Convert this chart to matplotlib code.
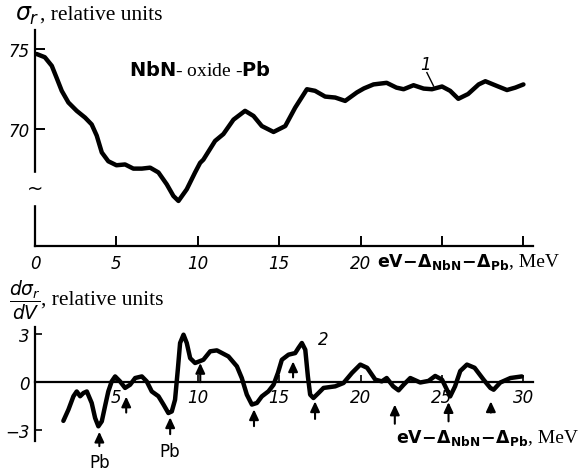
import matplotlib
matplotlib.use("Agg")
import matplotlib.pyplot as plt

plt.rcParams['mathtext.fontset'] = 'dejavusans'
plt.rcParams['mathtext.default'] = 'it'

# curve 1: sigma_r vs eV - D_NbN - D_Pb
x1 = [0.1, 0.6, 1.03, 1.33, 1.64, 2.05, 2.56, 3.07, 3.48, 3.79, 4.1, 4.5, 5.0, 5.53,
      6.04, 6.56, 7.07, 7.58, 8.09, 8.5, 8.81, 9.32, 9.83, 10.14, 10.34, 11.06, 11.57,
      12.19, 12.9, 13.42, 13.93, 14.65, 15.37, 15.98, 16.7, 17.2, 17.82, 18.44, 19.05,
      19.77, 20.2, 20.79, 21.6, 22.2, 22.64, 23.25, 23.87, 24.38, 25.0, 25.5, 26.0,
      26.6, 27.25, 27.66, 28.38, 28.99, 29.5, 30.0]
y1 = [74.7, 74.5, 73.96, 73.2, 72.4, 71.67, 71.15, 70.73, 70.3, 69.6, 68.55, 68.0, 67.75, 67.8,
      67.54, 67.54, 67.6, 67.3, 66.56, 65.83, 65.52, 66.25, 67.3, 67.9, 68.1, 69.27, 69.7,
      70.6, 71.15, 70.83, 70.2, 69.83, 70.2, 71.35, 72.5, 72.4, 72.04, 71.98, 71.77,
      72.3, 72.55, 72.8, 72.9, 72.6, 72.5, 72.75, 72.54, 72.5, 72.67, 72.4, 71.9,
      72.2, 72.8, 73.0, 72.7, 72.45, 72.6, 72.8]

# curve 2: d sigma_r / dV
x2 = [1.74, 2.05, 2.36, 2.56, 2.77, 2.97, 3.18, 3.48, 3.69, 3.89, 4.1, 4.3, 4.5, 4.71,
      4.92, 5.22, 5.53, 5.84, 6.15, 6.56, 6.86, 7.17, 7.58, 7.89, 8.19, 8.4, 8.6, 8.77,
      8.91, 9.12, 9.32, 9.53, 9.83, 10.34, 10.76, 11.17, 11.88, 12.4, 12.7, 13.01, 13.32,
      13.63, 13.93, 14.34, 14.65, 14.92, 15.16, 15.57, 15.98, 16.18, 16.39, 16.6, 16.76,
      16.9, 17.1, 17.41, 17.72, 18.44, 18.95, 19.47, 19.98, 20.4, 20.9, 21.3, 21.6,
      22.0, 22.33, 22.64, 23.05, 23.66, 24.17, 24.58, 25.0, 25.3, 25.5, 25.8, 26.12,
      26.53, 27.0, 27.55, 27.97, 28.17, 28.58, 29.2, 29.9]
y2 = [-2.42, -1.72, -0.88, -0.58, -0.88, -0.68, -0.58, -1.3, -2.24, -2.76, -2.45, -1.5, -0.58, 0.05,
      0.36, 0.05, -0.36, -0.16, 0.26, 0.36, 0.05, -0.58, -0.88, -1.4, -1.93, -1.83, -1.1, 0.78,
      2.45, 2.97, 2.45, 1.5, 1.2, 1.4, 1.93, 1.99, 1.61, 0.99, 0.26, -0.78, -1.4,
      -1.3, -0.89, -0.57, -0.16, 0.58, 1.4, 1.72, 1.82, 2.14, 2.45, 2.03, 0.36,
      -0.78, -0.99, -0.68, -0.36, -0.26, -0.05, 0.58, 1.1, 0.9, 0.16, 0.05, 0.26,
      -0.26, -0.51, -0.16, 0.26, -0.02, 0.08, 0.39, 0.16, -0.47, -0.89, -0.26, 0.7,
      1.1, 0.9, 0.16, -0.36, -0.47, -0.02, 0.26, 0.36]

# arrows in the lower panel: position, head, tail
arrow_x = [3.95, 5.6, 8.3, 10.15, 13.45, 15.85, 17.2, 22.1, 25.4, 28.0]
arrow_head = [-3.1, -0.9, -2.2, 1.2, -1.7, 1.3, -1.2, -1.4, -1.25, -1.2]
arrow_tail = [-4.0, -1.9, -3.25, 0.0, -2.75, 0.3, -2.3, -2.6, -2.45, -1.9]
pb_x = [4.0, 8.3]
pb_y = [-5.0, -4.3]

top_ticks = [0, 5, 10, 15, 20, 25, 30]
top_labels = ['0', '5', '10', '15', '20', '', '']
bot_ticks = [5, 10, 15, 20, 25, 30]
bot_labels = ['5', '10', '15', '20', '25', '30']

num_font = dict(family=['DejaVu Sans'], style='italic', size=12)
serif = ['Liberation Serif', 'DejaVu Serif']
xlab = r'$\mathbf{eV\!-\!\Delta_{NbN}\!-\!\Delta_{Pb}}$'


def label_with_units(x, y, math, size, units, usize):
    # math part, then the serif units text right after it
    t = fig.text(x, y, math, fontsize=size, va='center', ha='left')
    plt.annotate(units, xy=(1, 0.5), xycoords=t, fontsize=usize, family=serif,
                 va='center', ha='left', annotation_clip=False)


fig = plt.figure(figsize=(5.84, 4.77), dpi=100)

# ---- top panel
ax1 = fig.add_axes([0.06, 0.482, 0.853, 0.453])
ax1.plot(x1, y1, color='black', lw=3.2, solid_joinstyle='round', solid_capstyle='round')
ax1.set_xlim(0, 30.6)
ax1.set_ylim(62.7, 76.2)
for s in ['top', 'right']:
    ax1.spines[s].set_visible(False)
ax1.spines['left'].set_linewidth(1.6)
ax1.spines['bottom'].set_linewidth(1.6)
ax1.set_xticks(top_ticks)
ax1.set_xticklabels(top_labels, **num_font)
ax1.set_yticks([70, 75])
ax1.set_yticklabels(['70', '75'], **num_font)
ax1.tick_params(direction='in', length=7, width=1.4, pad=4)
ax1.tick_params(axis='x', pad=6)
ax1.text(0, 66.3, '~', fontsize=14, ha='center', va='center',
         backgroundcolor='white')
ax1.text(5.8, 73.75, r'$\mathbf{NbN}$- oxide -$\mathbf{Pb}$', fontsize=14,
         family=serif, va='center')
ax1.text(24.0, 74.05, '1', fontsize=12, style='italic', ha='center', va='center')
ax1.plot([24.07, 24.48], [73.54, 72.7], color='black', lw=1.0)

# ---- bottom panel
ax2 = fig.add_axes([0.06, 0.073, 0.853, 0.239])
ax2.plot(x2, y2, color='black', lw=3.2, solid_joinstyle='round', solid_capstyle='round')
ax2.set_xlim(0, 30.6)
ax2.set_ylim(-3.69, 3.44)
for s in ['top', 'right']:
    ax2.spines[s].set_visible(False)
ax2.spines['bottom'].set_position(('data', 0))
ax2.spines['left'].set_linewidth(1.6)
ax2.spines['bottom'].set_linewidth(1.6)
ax2.set_xticks(bot_ticks)
ax2.set_xticklabels(bot_labels, **num_font)
ax2.set_yticks([-3, 0, 3])
ax2.set_yticklabels(['\u22123', '0', '3'], **num_font)
ax2.tick_params(direction='in', length=5, width=1.2, pad=4)
for xa, yh, yt in zip(arrow_x, arrow_head, arrow_tail):
    ax2.annotate('', xy=(xa, yh), xytext=(xa, yt), annotation_clip=False,
                 arrowprops=dict(arrowstyle='-|>,head_length=0.6,head_width=0.28',
                                 color='black', lw=1.5, shrinkA=0, shrinkB=0))
for xp, yp in zip(pb_x, pb_y):
    ax2.text(xp, yp, 'Pb', fontsize=12, ha='center', va='center', clip_on=False)
ax2.text(17.7, 2.7, '2', fontsize=12, style='italic', ha='center', va='center')

# axis titles
label_with_units(0.026, 0.968, r'$\sigma_r$', 17, ', relative units', 15.5)
label_with_units(0.645, 0.451, xlab, 12.5, ', MeV', 14)
label_with_units(0.015, 0.371, r'$\dfrac{d\sigma_r}{dV}$', 13.5, ', relative units', 15.5)
label_with_units(0.678, 0.082, xlab, 12.5, ', MeV', 14)

fig.savefig('out.png', dpi=100)
